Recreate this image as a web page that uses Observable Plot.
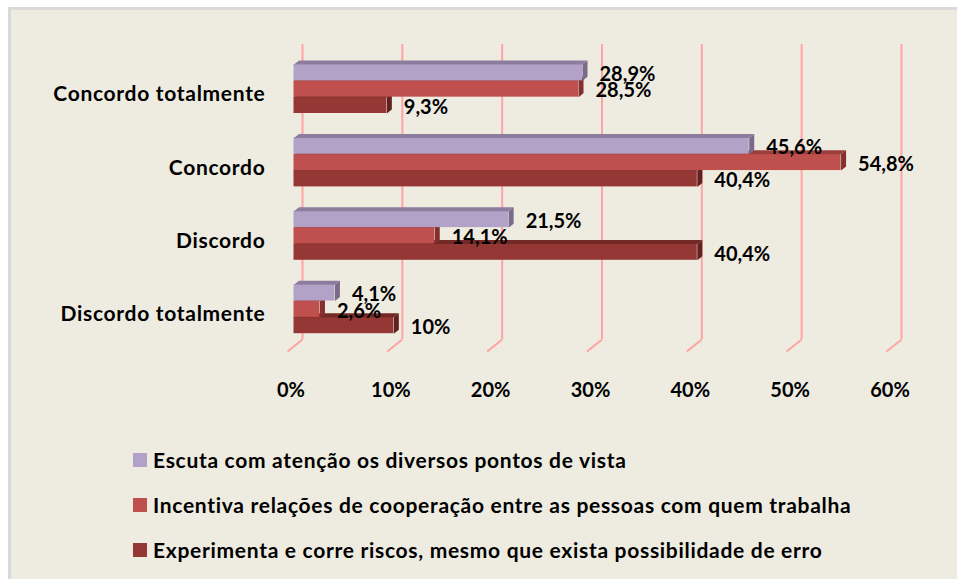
<!DOCTYPE html>
<html><head><meta charset="utf-8">
<script src="https://cdn.jsdelivr.net/npm/d3@7"></script>
<script src="https://cdn.jsdelivr.net/npm/@observablehq/plot@0.6"></script>
<style>
html,body{margin:0;padding:0;background:#fff;width:957px;height:579px;overflow:hidden;position:relative;}
#bg{position:absolute;left:8px;top:7px;width:946px;height:569px;background:#EEEBE0;border-left:3px solid #D9D9D9;border-top:3px solid #D9D9D9;}
#chart{position:absolute;left:0;top:0;}
#legend{position:absolute;left:133px;top:437px;font-family:Lato,sans-serif;font-weight:bold;font-size:21px;letter-spacing:0.7px;color:#000;}
.row{display:flex;align-items:center;height:45px;white-space:nowrap;}
.sw{width:14px;height:14px;margin-right:6px;flex:none;}
</style></head>
<body><div id="bg"></div><div id="chart"></div><div id="legend"></div>
<script>
// ---- data ----
const categories = ["Concordo totalmente", "Concordo", "Discordo", "Discordo totalmente"];
const seriesNames = [
  "Escuta com atenção os diversos pontos de vista",
  "Incentiva relações de cooperação entre as pessoas com quem trabalha",
  "Experimenta e corre riscos, mesmo que exista possibilidade de erro"
];
const escuta      = [28.9, 45.6, 21.5, 4.1];
const incentiva   = [28.5, 54.8, 14.1, 2.6];
const experimenta = [9.3, 40.4, 40.4, 10];
const xTicks = [0, 10, 20, 30, 40, 50, 60];

// ---- styling / layout ----
const frontColors = ["#B3A2C7", "#C0504D", "#953735"];
const topColors   = ["#8C7D9E", "#9A3F3C", "#742927"];
const sideColors  = ["#7A6B8C", "#83302E", "#622120"];
const X0 = 293.5, XPX = 9.983, Y0 = 64, YSTEP = 73.4, BAR = 16.33, DXP = 5, DYP = 4;
const bh = BAR / YSTEP, dyU = DYP / YSTEP, dxU = DXP / XPX;
const uy = px => (px - Y0) / YSTEP;
const fmt = v => String(v).replace(".", ",") + "%";

const seriesValues = [escuta, incentiva, experimenta];
const rows = categories.flatMap((cat, i) => seriesValues.map((vals, j) => ({
  cat, i, j, series: seriesNames[j], value: vals[i],
  y1: i + j * bh, y2: i + (j + 1) * bh
})));

function facePoints(j, kind) {
  return rows.filter(r => r.j === j).flatMap((r, k) => {
    const pts = kind === "top"
      ? [[0, r.y1], [dxU, r.y1 - dyU], [r.value + dxU, r.y1 - dyU], [r.value, r.y1]]
      : [[r.value, r.y1], [r.value + dxU, r.y1 - dyU], [r.value + dxU, r.y2 - dyU], [r.value, r.y2]];
    return pts.map(([x, y]) => ({id: kind + j + "_" + k, x, y}));
  });
}

const barMarks = [2, 1, 0].flatMap(j => [
  Plot.rect(rows.filter(r => r.j === j), {x1: () => 0, x2: "value", y1: "y1", y2: "y2", fill: frontColors[j]}),
  Plot.line(facePoints(j, "top"), {x: "x", y: "y", z: "id", fill: topColors[j], stroke: "none", curve: "linear"}),
  Plot.line(facePoints(j, "side"), {x: "x", y: "y", z: "id", fill: sideColors[j], stroke: "none", curve: "linear"})
]);

const gridStroke = "#FFA3A3";
const chart = Plot.plot({
  width: 957,
  height: 420,
  marginTop: 44,
  marginBottom: 81,
  marginLeft: 0,
  marginRight: 0,
  style: {background: "transparent", fontFamily: "Lato, sans-serif", fontWeight: "bold", fontSize: "20px", color: "#000", overflow: "visible"},
  x: {type: "linear", domain: [0, 60], range: [X0, X0 + 60 * XPX], axis: null},
  y: {type: "linear", domain: [0, 4], range: [Y0, Y0 + 4 * YSTEP], axis: null},
  marks: [
    Plot.ruleX(xTicks, {x: d => d, dx: 8.5, stroke: gridStroke, strokeWidth: 2}),
    Plot.link(xTicks, {x1: d => d + 8.5 / XPX, x2: d => d - 6.5 / XPX, y1: () => uy(339), y2: () => uy(351), stroke: gridStroke, strokeWidth: 2}),
    ...barMarks,
    Plot.text(rows, {x: "value", y: r => (r.y1 + r.y2) / 2, text: r => fmt(r.value), dx: 17, dy: 2, textAnchor: "start", fill: "#000"}),
    Plot.text(categories, {x: () => 0, y: (d, i) => i + 1.5 * bh, text: d => d, dx: -28.5, dy: 5.5, textAnchor: "end", fill: "#000", fontSize: 21}),
    Plot.axisX(xTicks, {anchor: "bottom", tickSize: 0, tickPadding: 43, dx: -3, tickFormat: d => d + "%"})
  ]
});
d3.select(chart).selectAll("text")
  .filter(function() { return categories.includes(this.textContent); })
  .style("letter-spacing", "0.7px");
document.getElementById("chart").appendChild(chart);

const legend = document.getElementById("legend");
seriesNames.forEach((name, j) => {
  const row = document.createElement("div");
  row.className = "row";
  const sw = document.createElement("span");
  sw.className = "sw";
  sw.style.background = frontColors[j];
  const t = document.createElement("span");
  t.textContent = name;
  row.appendChild(sw); row.appendChild(t);
  legend.appendChild(row);
});
</script>
</body></html>
